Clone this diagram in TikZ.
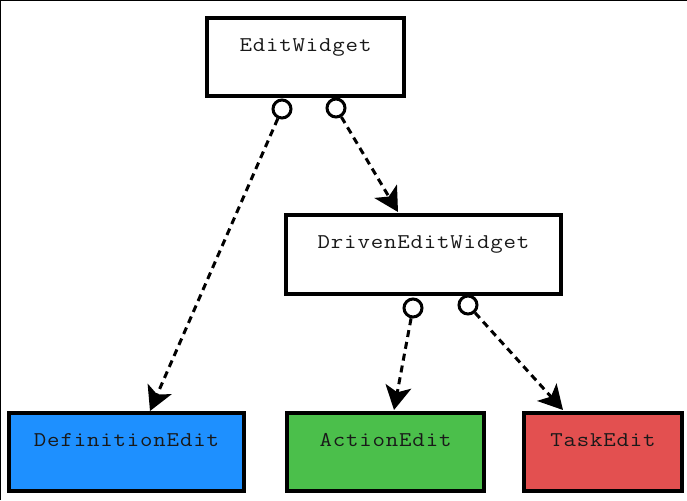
\documentclass[tikz,border=0pt]{standalone}
\usepackage{fontspec}
\usetikzlibrary{arrows.meta}
\newfontfamily\courfont{Latin Modern Mono}[FakeStretch=1.15,LetterSpace=4]
\definecolor{defblue}{HTML}{1E90FF}
\definecolor{actgreen}{HTML}{4BBF4B}
\definecolor{taskred}{HTML}{E35050}
\tikzset{
  box/.style={draw=black, line width=3.5pt, rectangle, inner sep=0pt, outer sep=0pt},
  boxtext/.style={anchor=base, inner sep=0pt, text=black!90, font=\courfont\fontsize{21}{24}\selectfont},
  port/.style={draw=black, line width=3pt, circle, minimum size=18pt, inner sep=0pt, fill=white},
  dep/.style={line width=3pt, dash pattern=on 7pt off 5pt,
    -{Stealth[length=24pt,width=26pt,inset=6pt]}},
}
\begin{document}
\begin{tikzpicture}[x=1pt,y=-1pt]
\useasboundingbox (0,0) rectangle (687,500);
\draw[line width=1pt] (0.5,500) -- (0.5,0.5) -- (687,0.5);
% boxes
\node[box, minimum width=197pt, minimum height=78pt] (ew) at (305.5,57) {};
\node[box, minimum width=275pt, minimum height=79pt] (dew) at (423.5,254.5) {};
\node[box, fill=defblue, minimum width=235pt, minimum height=78pt] (de) at (126.5,452) {};
\node[box, fill=actgreen, minimum width=197pt, minimum height=78pt] (ae) at (385.5,452) {};
\node[box, fill=taskred, minimum width=158pt, minimum height=78pt] (te) at (603,452) {};
% texts
\node[boxtext] (ewt) at ([yshift=-34pt]ew.north) {EditWidget};
\node[boxtext] (dewt) at ([yshift=-33pt]dew.north) {DrivenEditWidget};
\node[boxtext] (det) at ([yshift=-33pt]de.north) {DefinitionEdit};
\node[boxtext] (aet) at ([yshift=-33pt]ae.north) {ActionEdit};
\node[boxtext] (tet) at ([yshift=-33pt]te.north) {TaskEdit};
% ports
\node[port] (c1) at (282,109) {};
\node[port] (c2) at (336,108) {};
\node[port] (c3) at (413,308) {};
\node[port] (c4) at (468,305) {};
% arrow targets
\coordinate (t1) at (150,411);
\coordinate (t2) at (398,212);
\coordinate (t3) at (394,410);
\coordinate (t4) at (563,410);
% connectors
\draw[dep] (c1) -- (t1);
\draw[dep] (c2) -- (t2);
\draw[dep] (c3) -- (t3);
\draw[dep] (c4) -- (t4);
\end{tikzpicture}
\end{document}
